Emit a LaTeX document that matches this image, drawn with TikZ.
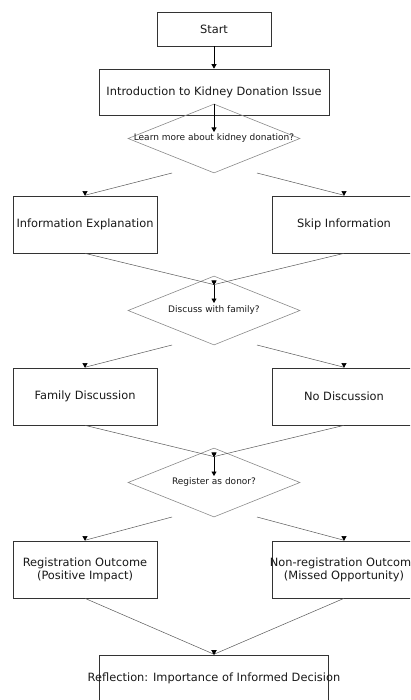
\documentclass[tikz,border=0pt]{standalone}
\usepackage{fontspec}
\setmainfont{DejaVu Sans}
\usetikzlibrary{arrows.meta,shapes.geometric}
\newcommand{\ov}[1]{\makebox[0pt][c]{#1}}
\begin{document}
\begin{tikzpicture}[x=1pt,y=-1pt,
  box/.style={draw=black!80, line width=0.7pt, inner sep=0pt, align=center,
    font=\fontsize{11.4}{13}\selectfont, text=black!90},
  decision/.style={diamond, draw=black!45, line width=0.6pt, inner sep=0pt,
    minimum width=172pt, minimum height=69pt},
  qtext/.style={font=\fontsize{9}{11}\selectfont, text=black!90, inner sep=0pt},
  flow/.style={draw=black!65, line width=0.5pt, -{Triangle[width=5pt,length=4.5pt,fill=black,color=black]}},
  down/.style={draw=black, line width=0.8pt, -{Triangle[width=5pt,length=4.5pt]}}]
\useasboundingbox (0,0) rectangle (410,700);
\clip (0,0) rectangle (410,700);
\fill[white] (0,0) rectangle (410,700);

\node[box, minimum width=114pt, minimum height=34pt] (start) at (214,29) {Start};
\node[box, minimum width=230pt, minimum height=46pt] (intro) at (214,92) {\ov{Introduction to Kidney Donation Issue}};
\node[decision] (d1) at (214,138.5) {};
\node[qtext] (q1) at (214,138.5) {Learn more about kidney donation?};

\node[box, minimum width=144pt, minimum height=57pt] (info) at (85,224.5) {\ov{Information Explanation}};
\node[box, minimum width=144pt, minimum height=57pt] (skip) at (344,224.5) {Skip Information};
\node[decision] (d2) at (214,310.5) {};
\node[qtext] (q2) at (214,310.5) {Discuss with family?};

\node[box, minimum width=144pt, minimum height=57pt] (fam) at (85,396.5) {Family Discussion};
\node[box, minimum width=144pt, minimum height=57pt] (nod) at (344,396.5) {No Discussion};
\node[decision] (d3) at (214,482.5) {};
\node[qtext] (q3) at (214,482.5) {Register as donor?};

\node[box, minimum width=144pt, minimum height=57pt] (reg) at (85,569.5) {\ov{Registration Outcome}\\\ov{(Positive Impact)}};
\node[box, minimum width=144pt, minimum height=57pt] (nreg) at (344,569.5) {\ov{Non-registration Outcome}\\\ov{(Missed Opportunity)}};
\node[box, minimum width=229pt, minimum height=46pt] (refl) at (214,678) {\ov{Reflection: Importance of Informed Decision}};

% coordinates
\coordinate (a1) at (214,132);
\coordinate (d1l) at (172,173);
\coordinate (d1r) at (257,173);
\coordinate (j2) at (214,285);
\coordinate (a2) at (214,303);
\coordinate (d2l) at (172,345);
\coordinate (d2r) at (257,345);
\coordinate (j3) at (214,457);
\coordinate (a3) at (214,476);
\coordinate (d3l) at (172,517);
\coordinate (d3r) at (257,517);

% connectors
\draw[down] (start.south) -- (intro.north);
\draw[down] (d1.north) -- (a1);
\draw[flow] (d1l) -- ([yshift=0.4pt]info.north) -- (info.north);
\draw[flow] (d1r) -- ([yshift=0.4pt]skip.north) -- (skip.north);
\draw[flow] (info.south) -- ([yshift=0.4pt]j2) -- (j2);
\draw[flow] (skip.south) -- ([yshift=0.4pt]j2) -- (j2);
\draw[down] (j2) -- (a2);
\draw[flow] (d2l) -- ([yshift=0.4pt]fam.north) -- (fam.north);
\draw[flow] (d2r) -- ([yshift=0.4pt]nod.north) -- (nod.north);
\draw[flow] (fam.south) -- ([yshift=0.4pt]j3) -- (j3);
\draw[flow] (nod.south) -- ([yshift=0.4pt]j3) -- (j3);
\draw[down] (j3) -- (a3);
\draw[flow] (d3l) -- ([yshift=0.4pt]reg.north) -- (reg.north);
\draw[flow] (d3r) -- ([yshift=0.4pt]nreg.north) -- (nreg.north);
\draw[flow] (reg.south) -- ([yshift=0.4pt]refl.north) -- (refl.north);
\draw[flow] (nreg.south) -- ([yshift=0.4pt]refl.north) -- (refl.north);
\end{tikzpicture}
\end{document}
